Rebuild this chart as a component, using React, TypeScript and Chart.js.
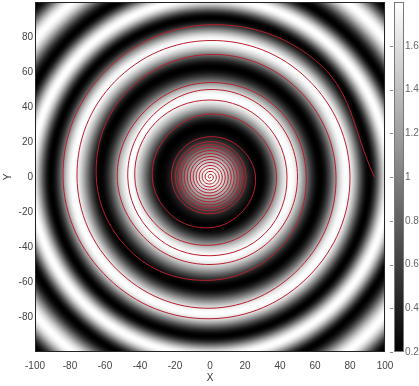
import React, { useEffect, useRef } from 'react';
import { Chart, registerables } from 'chart.js';

Chart.register(...registerables);

// ---- data ----
const xTickValues = [-100, -80, -60, -40, -20, 0, 20, 40, 60, 80, 100];
const yTickValues = [-80, -60, -40, -20, 0, 20, 40, 60, 80];
const cbTickValues = [0.2, 0.4, 0.6, 0.8, 1, 1.2, 1.4, 1.6];
const axisMin = -100;
const axisMax = 100;
const cbMin = 0.2;
const cbMax = 1.8;

// radial brightness profile of the rings: radius of each bright / dark extreme and its value
const ringRadius = [0, 29, 46, 63, 78, 91, 102, 113, 127, 140, 152];
const ringValue = [1.8, 0.2, 1.8, 0.2, 1.8, 0.2, 1.8, 0.2, 1.8, 0.2, 1.8];

// red spiral: radius at every eighth of a turn, from the centre outward (clockwise); it ends on the +X axis
const spiralCoreRadii = [
  0, 0.2, 0.4, 0.6, 0.8, 1.0, 1.2, 1.5,
  1.7, 1.9, 2.1, 2.3, 2.6, 2.8, 3.0, 3.2,
  3.4, 3.6, 3.8, 4.0, 4.3, 4.5, 4.7, 4.9,
  5.1, 5.3, 5.5, 5.7, 6.0, 6.2, 6.4, 6.6,
  6.8, 7.0, 7.2, 7.4, 7.7, 7.9, 8.1, 8.3,
  8.5, 8.7, 8.9, 9.1, 9.4, 9.6, 9.8, 10.0,
  10.2, 10.4, 10.6, 10.8, 11.1, 11.3, 11.5, 11.7,
  11.9, 12.1, 12.3, 12.5, 12.8, 13.0, 13.2, 13.4,
  13.6, 13.8, 14.0, 14.2, 14.5, 14.7, 14.9, 15.1,
  15.3, 15.5, 15.7, 15.9, 16.2, 16.4, 16.6, 16.8,
  17.0, 17.2, 17.4, 17.6, 17.9, 18.1, 18.3, 18.5,
  18.7, 18.9, 19.1, 19.3, 19.6, 19.8, 20.0, 20.2,
  20.4, 20.6, 20.8,
];
const spiralOuterRadii = [
  21, 21.5, 22, 22.5, 23, 24, 26, 27, 29, 31,
  33, 34, 36, 37, 38, 38, 39, 41, 43, 44,
  44, 44, 44, 45, 45, 46, 47, 48, 50, 50,
  50, 50, 50, 51, 53, 53, 54, 55, 55, 57,
  59, 62, 65, 68, 70, 71, 72, 73, 75, 75,
  76, 77, 78, 79, 80, 80, 81, 82, 84, 85,
  87, 90, 94,
];

const FONT = '"Liberation Sans", Arial, sans-serif';

function profileValue(r: number): number {
  for (let i = 0; i < ringRadius.length - 1; i++) {
    const r0 = ringRadius[i];
    const r1 = ringRadius[i + 1];
    if (r >= r0 && r <= r1) {
      const t = (r - r0) / (r1 - r0);
      const s = (1 - Math.cos(Math.PI * t)) / 2;
      return ringValue[i] + (ringValue[i + 1] - ringValue[i]) * s;
    }
  }
  return ringValue[ringValue.length - 1];
}

function buildSpiral() {
  const radii = spiralCoreRadii.concat(spiralOuterRadii);
  const n = radii.length;
  return radii.map((r, i) => {
    const a = ((n - 1 - i) * Math.PI) / 4;
    return { x: r * Math.cos(a), y: r * Math.sin(a) };
  });
}

let heatCanvas: HTMLCanvasElement | null = null;
function getHeatCanvas(): HTMLCanvasElement {
  if (heatCanvas) return heatCanvas;
  const N = 240;
  const c = document.createElement('canvas');
  c.width = N;
  c.height = N;
  const ctx = c.getContext('2d')!;
  const img = ctx.createImageData(N, N);
  for (let j = 0; j < N; j++) {
    const y = axisMax - ((j + 0.5) / N) * (axisMax - axisMin);
    for (let i = 0; i < N; i++) {
      const x = axisMin + ((i + 0.5) / N) * (axisMax - axisMin);
      const v = profileValue(Math.sqrt(x * x + y * y));
      let g = (v - cbMin) / (cbMax - cbMin);
      g = Math.max(0, Math.min(1, g));
      const k = (j * N + i) * 4;
      const c8 = Math.round(g * 255);
      img.data[k] = c8;
      img.data[k + 1] = c8;
      img.data[k + 2] = c8;
      img.data[k + 3] = 255;
    }
  }
  ctx.putImageData(img, 0, 0);
  heatCanvas = c;
  return c;
}

const heatmapPlugin = {
  id: 'heatmap',
  beforeDatasetsDraw(chart: any) {
    const { ctx, scales } = chart;
    const xs = scales.x;
    const ys = scales.y;
    const x0 = xs.getPixelForValue(axisMin);
    const x1 = xs.getPixelForValue(axisMax);
    const y0 = ys.getPixelForValue(axisMax);
    const y1 = ys.getPixelForValue(axisMin);
    ctx.save();
    ctx.imageSmoothingEnabled = true;
    ctx.drawImage(getHeatCanvas(), x0, y0, x1 - x0, y1 - y0);
    ctx.restore();
  },
  afterDraw(chart: any) {
    const { ctx, chartArea, scales } = chart;
    ctx.save();
    ctx.strokeStyle = '#222';
    ctx.lineWidth = 1;
    ctx.strokeRect(
      Math.round(chartArea.left) + 0.5,
      Math.round(chartArea.top) + 0.5,
      Math.round(chartArea.right - chartArea.left) - 1,
      Math.round(chartArea.bottom - chartArea.top) - 1
    );
    // colour bar
    const cb = scales.cb;
    const top = cb.getPixelForValue(cbMax);
    const bottom = cb.getPixelForValue(cbMin);
    const left = cb.left + 9;
    const w = 10;
    const grad = ctx.createLinearGradient(0, bottom, 0, top);
    grad.addColorStop(0, '#000');
    grad.addColorStop(1, '#fff');
    ctx.fillStyle = grad;
    ctx.fillRect(left, top, w, bottom - top);
    ctx.strokeStyle = '#777';
    ctx.strokeRect(left + 0.5, top + 0.5, w - 1, bottom - top - 1);
    // small colour-bar tick marks
    ctx.strokeStyle = '#888';
    for (const v of cbTickValues) {
      const py = Math.round(cb.getPixelForValue(v)) + 0.5;
      ctx.beginPath();
      ctx.moveTo(left - 4, py);
      ctx.lineTo(left - 1, py);
      ctx.stroke();
    }
    ctx.restore();
  },
};

export default function App() {
  const ref = useRef<HTMLCanvasElement>(null);
  useEffect(() => {
    document.body.style.margin = '0';
    const canvas = ref.current!;
    const chart = new Chart(canvas, {
      type: 'scatter',
      data: {
        datasets: [
          {
            data: buildSpiral(),
            showLine: true,
            borderColor: 'rgb(185,30,45)',
            borderWidth: 1,
            pointRadius: 0,
            tension: 0.38,
            fill: false,
          } as any,
        ],
      },
      options: {
        responsive: false,
        animation: false,
        devicePixelRatio: 1,
        layout: { padding: { top: 2, left: 0, right: 0, bottom: 0 } },
        plugins: { legend: { display: false }, tooltip: { enabled: false } },
        scales: {
          x: {
            type: 'linear',
            min: axisMin,
            max: axisMax,
            grid: { display: false, drawTicks: false },
            border: { display: false },
            afterBuildTicks: (s: any) => {
              s.ticks = xTickValues.map((v) => ({ value: v }));
            },
            afterFit: (s: any) => {
              s.height = 34;
              s.paddingLeft = 0;
              s.paddingRight = 0;
            },
            ticks: {
              autoSkip: false,
              maxRotation: 0,
              padding: 8,
              color: '#444',
              font: { family: FONT, size: 10 },
            },
            title: {
              display: true,
              text: 'X',
              color: '#333',
              font: { family: FONT, size: 10 },
              padding: { top: 0, bottom: 2 },
            },
          },
          y: {
            type: 'linear',
            min: axisMin,
            max: axisMax,
            grid: { display: false, drawTicks: false },
            border: { display: false },
            afterBuildTicks: (s: any) => {
              s.ticks = yTickValues.map((v) => ({ value: v }));
            },
            afterFit: (s: any) => {
              s.width = 35;
              s.paddingTop = 0;
              s.paddingBottom = 0;
            },
            ticks: {
              autoSkip: false,
              padding: 2,
              color: '#444',
              font: { family: FONT, size: 10 },
            },
            title: {
              display: true,
              text: 'Y',
              color: '#333',
              font: { family: FONT, size: 10 },
              padding: { top: 2, bottom: 0 },
            },
          },
          cb: {
            type: 'linear',
            position: 'right',
            min: cbMin,
            max: cbMax,
            grid: { display: false, drawTicks: false },
            border: { display: false },
            afterBuildTicks: (s: any) => {
              s.ticks = cbTickValues.map((v) => ({ value: v }));
            },
            afterFit: (s: any) => {
              s.width = 34;
              s.paddingTop = 0;
              s.paddingBottom = 0;
            },
            ticks: {
              autoSkip: false,
              padding: 20,
              color: '#666',
              font: { family: FONT, size: 10 },
              callback: (v: any) => String(Math.round(Number(v) * 10) / 10),
            },
          },
        },
      },
      plugins: [heatmapPlugin],
    });
    return () => chart.destroy();
  }, []);
  return (
    <canvas
      ref={ref}
      width={419}
      height={386}
      style={{ display: 'block', width: 419, height: 386 }}
    />
  );
}
